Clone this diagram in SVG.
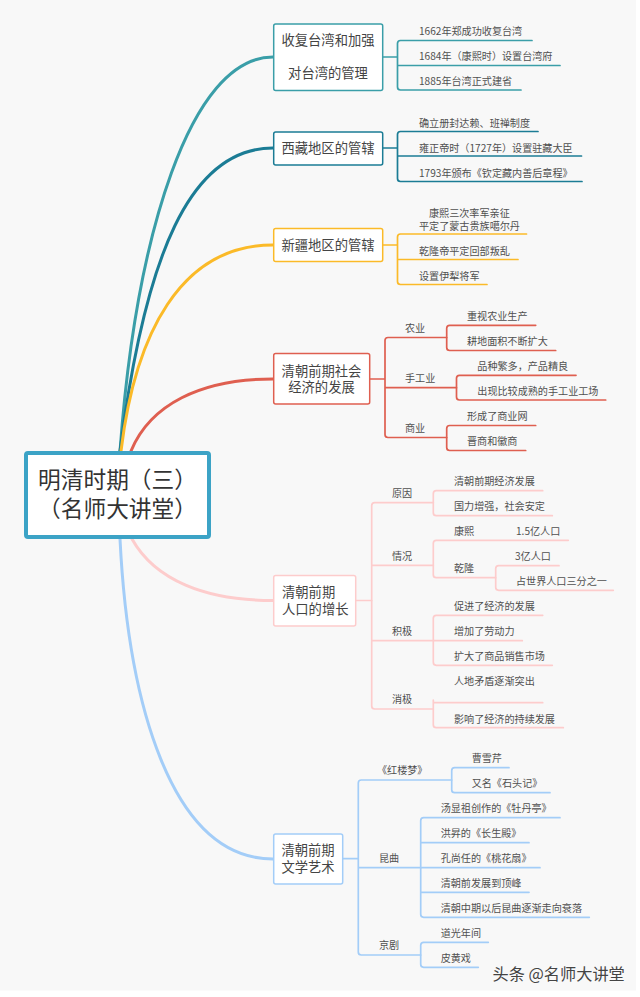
<svg xmlns="http://www.w3.org/2000/svg" width="640" height="997" viewBox="0 0 640 997">
<style>
text{font-family:"Noto Sans CJK SC","Noto Sans",sans-serif;fill:#505050;font-size:10.1px}
.n{font-size:13.3px;fill:#444}
.c{text-anchor:middle}
.r{font-size:22.7px;fill:#333;text-anchor:middle}
path{fill:none;stroke-linecap:round}
rect{fill:#fff;stroke-width:1.5}
.m{stroke-width:3}
.s{stroke-width:1.7}
.a{stroke:#3A9EA8}.b{stroke:#1B7C95}.y{stroke:#FBBA28}.d{stroke:#DF5F50}.p{stroke:#FDCCCC}.l{stroke:#A3CDF8}
</style>
<rect x="0" y="0" width="640" height="997" style="fill:#fff;stroke:none"/>
<rect x="0" y="0" width="636" height="990.5" style="fill:#f8f8f8;stroke:none"/>
<g id="connectors">
<path class="m a" d="M120 451C136 235 190 57 273 57"/>
<path class="m b" d="M120 451C145 255 190 148 273 148"/>
<path class="m y" d="M121 451C135 335 180 245 273 245"/>
<path class="m d" d="M131 451C150 405 200 379 273 379"/>
<path class="m p" d="M132 539C155 580 205 600.5 273 600.5"/>
<path class="m l" d="M120 539C128 700 170 859 273 859"/>
<path class="s a" d="M383 57H397.5M532 40.5H400.5Q397.5 40.5 397.5 43.5V87Q397.5 90 400.5 90H521M397.5 65.5H560"/>
<path class="s b" d="M383 148H397.5M538 131.5H400.5Q397.5 131.5 397.5 134.5V178.5Q397.5 181.5 400.5 181.5H582M397.5 156H581.5"/>
<path class="s y" d="M383 245H397.5M526.5 234H400.5Q397.5 234 397.5 237V281.5Q397.5 284.5 400.5 284.5H487M397.5 259.5H518"/>
<path class="s d" d="M370 379H385M446.7 337.5H388Q385 337.5 385 340.5V434.5Q385 437.5 388 437.5H446.7M385 387.7H456.5"/>
<path class="s d" d="M535.7 325.3H449.7Q446.7 325.3 446.7 328.3V347.5Q446.7 350.5 449.7 350.5H555.7"/>
<path class="s d" d="M576 375.3H459.5Q456.5 375.3 456.5 378.3V397Q456.5 400 459.5 400H605.7"/>
<path class="s d" d="M535.7 425.5H449.7Q446.7 425.5 446.7 428.5V447.5Q446.7 450.5 449.7 450.5H525.7"/>
<path class="s p" d="M356 600.5H372M433.3 502.7H374.7Q371.7 502.7 371.7 505.7V706Q371.7 709 374.7 709H433.3M371.7 565.3H433.3M371.7 640.7H433.3"/>
<path class="s p" d="M542.7 490.7H436.3Q433.3 490.7 433.3 493.7V512.7Q433.3 515.7 436.3 515.7H552.3"/>
<path class="s p" d="M568.3 540.3H436.3Q433.3 540.3 433.3 543.3V574.7Q433.3 577.7 436.3 577.7H495.7"/>
<path class="s p" d="M559 565.7H498.7Q495.7 565.7 495.7 568.7V587.3Q495.7 590.3 498.7 590.3H613.3"/>
<path class="s p" d="M542.7 615.3H436.3Q433.3 615.3 433.3 618.3V662.3Q433.3 665.3 436.3 665.3H552.3M433.3 640.7H522.3"/>
<path class="s p" d="M433.3 700V724.7Q433.3 727.7 436.3 727.7H563.3M433.3 702.7H542.7"/>
<path class="s l" d="M343 858.7H358.3M451.7 780H361.3Q358.3 780 358.3 783V952Q358.3 955 361.3 955H420.7M358.3 867.7H420.7"/>
<path class="s l" d="M509 767.7H454.7Q451.7 767.7 451.7 770.7V789.7Q451.7 792.7 454.7 792.7H550"/>
<path class="s l" d="M560 817.7H423.7Q420.7 817.7 420.7 820.7V914.3Q420.7 917.3 423.7 917.3H589.3M420.7 842.7H529M420.7 867.7H540M420.7 892.3H529"/>
<path class="s l" d="M488.3 942.3H423.7Q420.7 942.3 420.7 945.3V964.3Q420.7 967.3 423.7 967.3H478.3"/>
</g>
<g id="root"><rect x="26" y="453" width="183" height="84" rx="2" style="stroke:#3CA3C6;stroke-width:4"/><text class="r" x="117.5" y="488">明清时期（三）</text><text class="r" x="117.5" y="517">（名师大讲堂）</text></g>
<g id="n1"><rect class="a" x="273.7" y="24" width="109" height="66.5" rx="2"/><text class="n c" x="328" y="45">收复台湾和加强</text><text class="n c" x="328" y="78">对台湾的管理</text></g>
<g id="n2"><rect class="b" x="273.7" y="132" width="109" height="33" rx="2"/><text class="n c" x="328" y="153">西藏地区的管辖</text></g>
<g id="n3"><rect class="y" x="273.7" y="228.5" width="109" height="33" rx="2"/><text class="n c" x="328" y="250">新疆地区的管辖</text></g>
<g id="n4"><rect class="d" x="273.7" y="353.5" width="96" height="50.5" rx="2"/><text class="n c" x="321.5" y="376">清朝前期社会</text><text class="n c" x="321.5" y="392">经济的发展</text></g>
<g id="n5"><rect class="p" x="273.7" y="575.5" width="82" height="50.5" rx="2"/><text class="n" x="282" y="597">清朝前期</text><text class="n" x="282" y="614">人口的增长</text></g>
<g id="n6"><rect class="l" x="273.7" y="834" width="69" height="50" rx="2"/><text class="n c" x="308" y="855">清朝前期</text><text class="n c" x="308" y="872">文学艺术</text></g>
<g id="n1-leaves"><text x="419" y="35">1662年郑成功收复台湾</text><text x="419" y="60">1684年（康熙时）设置台湾府</text><text x="419" y="85">1885年台湾正式建省</text></g>
<g id="n2-leaves"><text x="419" y="127">确立册封达赖、班禅制度</text><text x="419" y="152">雍正帝时（1727年）设置驻藏大臣</text><text x="419" y="177">1793年颁布《钦定藏内善后章程》</text></g>
<g id="n3-leaves"><text x="429" y="216.5">康熙三次率军亲征</text><text x="419" y="229.5">平定了蒙古贵族噶尔丹</text><text x="419" y="255">乾隆帝平定回部叛乱</text><text x="419" y="280">设置伊犁将军</text></g>
<g id="n4-leaves"><text x="405" y="332">农业</text><text x="405" y="382">手工业</text><text x="405" y="432">商业</text><text x="467" y="320">重视农业生产</text><text x="467" y="345">耕地面积不断扩大</text><text x="477.3" y="370">品种繁多，产品精良</text><text x="477.3" y="395">出现比较成熟的手工业工场</text><text x="467" y="420">形成了商业网</text><text x="467" y="445">晋商和徽商</text></g>
<g id="n5-leaves"><text x="392" y="497">原因</text><text x="392" y="560">情况</text><text x="392" y="635">积极</text><text x="392" y="703">消极</text><text x="454" y="485">清朝前期经济发展</text><text x="454" y="510">国力增强，社会安定</text><text x="454" y="535">康熙</text><text x="516" y="535">1.5亿人口</text><text x="454" y="572">乾隆</text><text x="515" y="560">3亿人口</text><text x="516" y="585">占世界人口三分之一</text><text x="454" y="610">促进了经济的发展</text><text x="454" y="635">增加了劳动力</text><text x="454" y="660">扩大了商品销售市场</text><text x="454" y="685">人地矛盾逐渐突出</text><text x="454" y="722.7">影响了经济的持续发展</text></g>
<g id="n6-leaves"><text x="377" y="774">《红楼梦》</text><text x="379" y="862">昆曲</text><text x="379" y="949">京剧</text><text x="471.7" y="762">曹雪芹</text><text x="471.7" y="787">又名《石头记》</text><text x="440.7" y="812">汤显祖创作的《牡丹亭》</text><text x="440.7" y="837">洪昇的《长生殿》</text><text x="440.7" y="862">孔尚任的《桃花扇》</text><text x="440.7" y="887">清朝前发展到顶峰</text><text x="440.7" y="912">清朝中期以后昆曲逐渐走向衰落</text><text x="440.7" y="937">道光年间</text><text x="440.7" y="962">皮黄戏</text></g>
<text x="492.5" y="980" style="font-size:16.2px;fill:#444;stroke:#fff;stroke-width:.4;paint-order:stroke">头条 @名师大讲堂</text>
</svg>
